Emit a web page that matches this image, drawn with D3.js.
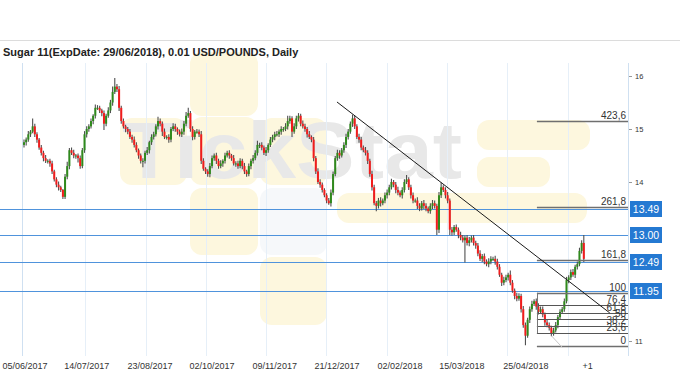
<!DOCTYPE html>
<html>
<head>
<meta charset="utf-8">
<script src="https://cdn.jsdelivr.net/npm/d3@7/dist/d3.min.js"></script>
<style>
  body { margin: 0; background: #fff; }
  text { font-family: "Liberation Sans", Arial, sans-serif; }
</style>
</head>
<body>
<script>
// daily closes (USD cents / lb)
let closes = [
  14.75, 14.8, 14.9, 14.95, 15.05, 14.9, 14.8, 14.65, 14.55, 14.45,
  14.4, 14.4, 14.35, 14.2, 14.05, 13.95, 13.9, 13.85, 13.72, 14.1,
  14.3, 14.6, 14.55, 14.5, 14.5, 14.45, 14.3, 14.6, 14.9, 15.0,
  15.05, 15.15, 15.25, 15.4, 15.4, 15.35, 15.3, 15.1, 15.25, 15.35,
  15.5, 15.7, 15.8, 15.75, 15.4, 15.15, 15.05, 15.0, 14.95, 14.85,
  14.8, 14.7, 14.6, 14.5, 14.4, 14.4, 14.55, 14.6, 14.75, 14.85,
  14.9, 15.05, 15.15, 15.1, 14.95, 14.85, 14.85, 14.8, 15.0, 15.05,
  15.0, 14.95, 14.9, 14.95, 15.1, 15.25, 15.3, 15.0, 14.85, 14.95,
  14.95, 14.9, 14.4, 14.25, 14.2, 14.15, 14.3, 14.45, 14.5, 14.4,
  14.3, 14.35, 14.4, 14.5, 14.55, 14.5, 14.45, 14.35, 14.35, 14.3,
  14.4, 14.3, 14.2, 14.15, 14.3, 14.4, 14.45, 14.55, 14.7, 14.7,
  14.65, 14.55, 14.6, 14.7, 14.8, 14.85, 14.9, 14.9, 14.95, 15.0,
  15.0, 15.05, 15.15, 15.2, 14.95, 15.05, 15.2, 15.25, 15.1, 15.05,
  15.0, 14.9, 14.85, 14.8, 14.45, 14.2, 14.0, 13.95, 13.85, 13.75,
  13.65, 13.6, 13.8, 14.15, 14.45, 14.55, 14.5, 14.6, 14.7, 14.85,
  14.95, 15.1, 15.2, 15.05, 14.85, 14.8, 14.65, 14.6, 14.55, 14.4,
  14.15, 13.9, 13.6, 13.55, 13.65, 13.6, 13.65, 13.75, 13.8, 13.9,
  14.0, 13.95, 13.85, 13.8, 13.75, 13.85, 14.0, 14.05, 13.9, 13.75,
  13.65, 13.65, 13.55, 13.5, 13.6, 13.55, 13.5, 13.45, 13.55, 13.6,
  13.55, 13.1, 13.75, 13.9, 13.85, 13.75, 13.65, 13.1, 13.05, 13.15,
  13.1, 13.0, 12.95, 12.9, 12.95, 12.85, 12.9, 12.95, 12.85, 12.8,
  12.65, 12.55, 12.6, 12.5, 12.45, 12.5, 12.55, 12.55, 12.5, 12.4,
  12.25, 12.1, 12.15, 12.2, 12.25, 12.1, 11.95, 11.85, 11.8, 11.85,
  11.6, 11.3, 11.1, 11.4, 11.6, 11.7, 11.75, 11.65, 11.55, 11.6,
  11.5, 11.35, 11.3, 11.25, 11.15, 11.2, 11.3, 11.45, 11.55, 11.6,
  11.75, 12.15, 12.2, 12.3, 12.25, 12.4, 12.45, 12.7, 12.85, 12.55
];
let firstOpen = 14.7;

// wick lengths beyond the body, in hundredths
let wickUp = [
  5, 4, 6, 3, 15, 5, 4, 3, 5, 4,   6, 3, 4, 5, 3, 4, 6, 3, 2, 5,
  8, 4, 5, 6, 3, 4, 5, 4, 6, 5,    4, 5, 3, 6, 5, 4, 3, 5, 4, 6,
  5, 10, 16, 5, 6, 4, 5, 3, 4, 5,  4, 6, 5, 3, 4, 5, 4, 6, 3, 5,
  5, 4, 8, 5, 4, 6, 3, 5, 4, 6,    5, 3, 4, 6, 5, 7, 10, 4, 5, 3,
  5, 4, 6, 5, 3, 4, 6, 5, 4, 5,    4, 6, 3, 5, 4, 5, 3, 6, 4, 5,
  5, 4, 6, 3, 5, 4, 6, 5, 8, 4,    5, 4, 6, 3, 5, 4, 5, 6, 4, 5,
  4, 6, 10, 5, 4, 6, 5, 5, 4, 6,   5, 4, 6, 3, 5, 4, 6, 5, 4, 3,
  4, 5, 6, 5, 4, 6, 5, 4, 5, 6,    5, 4, 7, 5, 4, 6, 5, 4, 6, 5,
  4, 6, 5, 4, 5, 6, 4, 5, 6, 5,    6, 4, 5, 6, 4, 5, 5, 8, 4, 5,
  5, 4, 6, 5, 4, 6, 5, 4, 5, 6,    5, 4, 6, 9, 4, 5, 6, 4, 5, 4,
  5, 4, 6, 5, 4, 5, 6, 4, 5, 4,    5, 6, 4, 5, 4, 6, 5, 4, 6, 5,
  5, 4, 6, 5, 4, 8, 5, 4, 6, 5,    4, 6, 5, 4, 5, 6, 4, 5, 6, 5,
  5, 4, 6, 5, 4, 5, 6, 4, 5, 4,    5, 6, 4, 5, 6, 4, 5, 6, 5, 15
];
let wickDown = [
  5, 6, 4, 5, 3, 5, 6, 4, 5, 6,    4, 5, 6, 5, 4, 5, 6, 4, 4, 4,
  5, 6, 4, 5, 6, 8, 5, 4, 5, 6,    5, 4, 6, 5, 4, 5, 6, 12, 5, 4,
  5, 6, 4, 5, 6, 5, 4, 6, 5, 4,    6, 5, 4, 6, 5, 12, 5, 4, 6, 5,
  5, 4, 6, 5, 8, 4, 5, 6, 5, 4,    5, 6, 4, 5, 6, 5, 4, 5, 6, 5,
  4, 5, 6, 4, 5, 5, 6, 4, 5, 6,    5, 4, 6, 5, 4, 6, 5, 4, 6, 5,
  4, 6, 5, 5, 4, 6, 5, 4, 5, 6,    5, 4, 6, 5, 4, 5, 6, 4, 5, 6,
  5, 4, 6, 5, 10, 4, 5, 6, 5, 4,   5, 6, 4, 5, 6, 5, 4, 6, 5, 4,
  5, 3, 6, 5, 4, 5, 6, 4, 5, 6,    5, 4, 6, 5, 4, 6, 5, 4, 5, 6,
  5, 6, 4, 10, 5, 6, 4, 5, 6, 5,   4, 5, 6, 5, 4, 6, 5, 4, 5, 6,
  5, 4, 6, 5, 4, 6, 5, 4, 5, 6,    5, 10, 6, 5, 4, 6, 5, 10, 6, 5,
  4, 6, 5, 4, 42, 5, 6, 4, 5, 6,   5, 4, 6, 5, 4, 6, 5, 4, 6, 5,
  4, 6, 5, 4, 6, 5, 4, 6, 5, 4,    6, 5, 18, 4, 6, 5, 4, 6, 5, 4,
  5, 6, 4, 5, 6, 5, 4, 6, 5, 4,    5, 4, 6, 5, 4, 6, 5, 4, 5, 6
];

let dateLabels = ["05/06/2017", "14/07/2017", "23/08/2017", "02/10/2017", "09/11/2017",
                  "21/12/2017", "02/02/2018", "15/03/2018", "25/04/2018", "+1"];
let dateLabelIdx = [0.5, 29, 58.3, 87, 116, 144.8, 174, 202.6, 232.2, 260.8];
let gridIdx = [28.2, 56.4, 84.2, 112, 139.7, 167.9, 195.6, 223.4, 251.6];

let priceTicks = [11, 14, 15, 16];
let levelPrices = [13.49, 13.00, 12.49, 11.95];

let fibLevels = [0, 23.6, 38.2, 50, 61.8, 76.4, 100, 161.8, 261.8, 423.6];
let fibLabels = ["0", "23,6", "38,2", "50", "61,8", "76,4", "100", "161,8", "261,8", "423,6"];
let fibLow = 10.91, fibHigh = 11.91, fibStartIdx = 237.3;

let trendLine = [[144.8, 15.51], [271, 11.53]];

let svg, xScale, yScale;
let plotTop = 63, plotBottom = 356, plotRight = 628;

function drawWatermark() {
  let g = svg.append("g");
  let blocks = [
    [190, 52, 68, 64], [120, 118, 67, 67], [190, 117, 68, 68], [260, 118, 67, 67],
    [190, 188, 68, 67], [260, 257, 67, 68],
    [477, 120, 113, 30], [477, 157, 73, 30], [337, 193, 250, 30]
  ];
  g.selectAll("rect.wm")
    .data(blocks)
    .enter()
    .append("rect")
    .attr("class", "wm")
    .attr("x", d => d[0]).attr("y", d => d[1])
    .attr("width", d => d[2]).attr("height", d => d[3])
    .attr("rx", 12)
    .style("fill", "#fdf7de");

  g.append("rect")
    .attr("x", 260).attr("y", 188).attr("width", 67).attr("height", 67)
    .attr("rx", 12)
    .style("fill", "#f6f8fa");

  g.append("text")
    .attr("x", 122)
    .attr("y", 178)
    .attr("textLength", 340)
    .attr("lengthAdjust", "spacingAndGlyphs")
    .style("font-size", "80px")
    .style("font-weight", "bold")
    .style("fill", "#e8e8e8")
    .text("TickStat");
}

function drawAxes() {
  // separator above the title
  svg.append("line")
    .attr("x1", 0).attr("x2", 680).attr("y1", 40.5).attr("y2", 40.5)
    .style("stroke", "#dcdcdc");

  svg.selectAll("line.grid")
    .data(gridIdx)
    .enter()
    .append("line")
    .attr("class", "grid")
    .attr("x1", d => Math.round(xScale(d)) + 0.5)
    .attr("x2", d => Math.round(xScale(d)) + 0.5)
    .attr("y1", plotTop).attr("y2", plotBottom)
    .style("stroke", "#e6eff8");

  svg.append("line")
    .attr("x1", 22.5).attr("x2", 22.5).attr("y1", plotTop).attr("y2", plotBottom)
    .style("stroke", "#cfe0f1");

  svg.append("line")
    .attr("x1", plotRight + 0.5).attr("x2", plotRight + 0.5).attr("y1", plotTop).attr("y2", plotBottom)
    .style("stroke", "#cfe0f1");

  let yAxis = svg.append("g")
    .attr("transform", "translate(" + (plotRight + 1) + ",0)")
    .call(d3.axisRight(yScale).tickValues(priceTicks).tickSize(3).tickPadding(3).tickFormat(d3.format("d")));
  yAxis.select(".domain").remove();
  yAxis.selectAll("line").style("stroke", "#999");
  yAxis.selectAll("text")
    .style("font-size", "7.5px")
    .style("fill", "#333");

  svg.selectAll("text.date")
    .data(dateLabels)
    .enter()
    .append("text")
    .attr("class", "date")
    .attr("x", (d, i) => xScale(dateLabelIdx[i]))
    .attr("y", 369)
    .attr("text-anchor", "middle")
    .style("font-size", "9px")
    .style("fill", "#333")
    .text(d => d);
}

function drawLevels() {
  svg.selectAll("line.level")
    .data(levelPrices)
    .enter()
    .append("line")
    .attr("class", "level")
    .attr("x1", 0).attr("x2", plotRight)
    .attr("y1", d => Math.round(yScale(d)) + 0.5)
    .attr("y2", d => Math.round(yScale(d)) + 0.5)
    .style("stroke", "#4f93dc");
}

function drawFib() {
  let fibPrice = lvl => fibLow + (fibHigh - fibLow) * lvl / 100;
  let x0 = xScale(fibStartIdx);
  let g = svg.append("g");

  g.selectAll("line.fib")
    .data(fibLevels)
    .enter()
    .append("line")
    .attr("class", "fib")
    .attr("x1", x0).attr("x2", plotRight)
    .attr("y1", d => Math.round(yScale(fibPrice(d))) + 0.5)
    .attr("y2", d => Math.round(yScale(fibPrice(d))) + 0.5)
    .style("stroke", d => (d == 0 || d == 100 || d > 100) ? "#6f6f6f" : "#555")
    .style("stroke-width", d => (d == 0 || d == 100 || d > 100) ? 1.6 : 1);

  // box edge on the retracement part
  g.append("line")
    .attr("x1", Math.round(x0) + 0.5).attr("x2", Math.round(x0) + 0.5)
    .attr("y1", yScale(fibPrice(100))).attr("y2", yScale(fibPrice(23.6)))
    .style("stroke", "#777");

  g.append("line")
    .attr("x1", xScale(244)).attr("x2", xScale(249))
    .attr("y1", yScale(11.1)).attr("y2", yScale(10.88))
    .style("stroke", "#c8c8c8");

  g.selectAll("text.fib")
    .data(fibLevels)
    .enter()
    .append("text")
    .attr("class", "fib")
    .attr("x", plotRight - 2)
    .attr("y", d => Math.round(yScale(fibPrice(d))) - 2)
    .attr("text-anchor", "end")
    .style("font-size", "10px")
    .style("fill", "#333")
    .text((d, i) => fibLabels[i]);
}

function drawCandles() {
  let data = closes.map((c, i) => {
    let o = i == 0 ? firstOpen : closes[i - 1];
    return {
      i: i, o: o, c: c,
      h: Math.max(o, c) + wickUp[i] / 100,
      l: Math.min(o, c) - wickDown[i] / 100
    };
  });

  svg.selectAll("line.wick")
    .data(data)
    .enter()
    .append("line")
    .attr("class", "wick")
    .attr("x1", d => xScale(d.i)).attr("x2", d => xScale(d.i))
    .attr("y1", d => yScale(d.h)).attr("y2", d => yScale(d.l))
    .style("stroke", "#505050")
    .style("stroke-width", 1.1);

  svg.selectAll("rect.body")
    .data(data)
    .enter()
    .append("rect")
    .attr("class", "body")
    .attr("x", d => xScale(d.i) - 1)
    .attr("width", 2)
    .attr("y", d => yScale(Math.max(d.o, d.c)))
    .attr("height", d => Math.max(1, Math.abs(yScale(d.o) - yScale(d.c))))
    .style("fill", d => d.c >= d.o ? "#2f8a1c" : "#f21c1c");
}

function drawTrend() {
  svg.append("line")
    .attr("x1", xScale(trendLine[0][0])).attr("y1", yScale(trendLine[0][1]))
    .attr("x2", xScale(trendLine[1][0])).attr("y2", yScale(trendLine[1][1]))
    .style("stroke", "#1a1a1a")
    .style("stroke-width", 1);
}

function drawPriceTags() {
  let tags = svg.selectAll("g.tag")
    .data(levelPrices)
    .enter()
    .append("g")
    .attr("class", "tag")
    .attr("transform", d => "translate(630," + Math.round(yScale(d)) + ")");

  tags.append("rect")
    .attr("x", 0).attr("y", -8)
    .attr("width", 32).attr("height", 16)
    .style("fill", "#2479d2");

  tags.append("text")
    .attr("x", 16).attr("y", 4)
    .attr("text-anchor", "middle")
    .style("font-size", "10.5px")
    .style("fill", "#fff")
    .text(d => d.toFixed(2));
}

svg = d3.select("body")
  .append("svg")
  .attr("width", 680)
  .attr("height", 380);

xScale = d3.scaleLinear().domain([0, closes.length - 1]).range([24, 583.8]);
yScale = d3.scaleLinear().domain([11, 16]).range([341, 76]);

drawWatermark();

svg.append("text")
  .attr("x", 3)
  .attr("y", 55.5)
  .style("font-size", "11px")
  .style("font-weight", "bold")
  .style("fill", "#222")
  .text("Sugar 11(ExpDate: 29/06/2018), 0.01 USD/POUNDS, Daily");

drawAxes();
drawLevels();
drawCandles();
drawFib();
drawTrend();
drawPriceTags();
</script>
</body>
</html>
